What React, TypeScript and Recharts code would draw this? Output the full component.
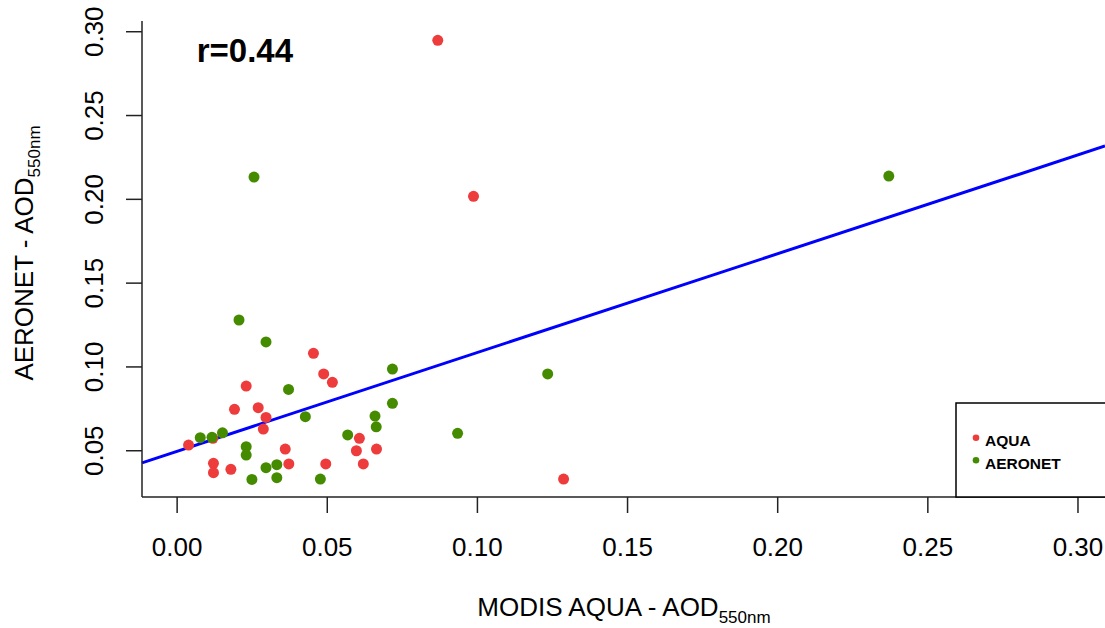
import { ScatterChart, Scatter, XAxis, YAxis, ReferenceLine } from 'recharts';

// MODIS AQUA points (red)
const aquaX = [0.0868, 0.0987, 0.1287, 0.0454, 0.0488, 0.0517, 0.023, 0.0191, 0.027, 0.0296, 0.0287, 0.0038,
  0.0119, 0.036, 0.0607, 0.0597, 0.0664, 0.0121, 0.0121, 0.0179, 0.0372, 0.0495, 0.062];
const aquaY = [0.2949, 0.2018, 0.0331, 0.1081, 0.0958, 0.0908, 0.0886, 0.0747, 0.0757, 0.0699, 0.0629, 0.0534,
  0.0574, 0.051, 0.0574, 0.05, 0.051, 0.0425, 0.0369, 0.0389, 0.0421, 0.0421, 0.0421];

// AERONET points (green)
const aeronetX = [0.0256, 0.237, 0.1234, 0.0206, 0.0296, 0.0371, 0.0717, 0.0717, 0.0427, 0.0659, 0.0663, 0.0568,
  0.0934, 0.0077, 0.0116, 0.0151, 0.023, 0.023, 0.0249, 0.0296, 0.0332, 0.0332, 0.0477];
const aeronetY = [0.2133, 0.2139, 0.0958, 0.128, 0.1149, 0.0866, 0.0987, 0.0783, 0.0703, 0.0707, 0.0643, 0.0594,
  0.0604, 0.0578, 0.058, 0.0607, 0.0524, 0.0474, 0.0329, 0.0399, 0.0417, 0.0339, 0.0331];

// regression line end points
const fitX = [-0.0117, 0.309];
const fitY = [0.0428, 0.2318];

const xTicks = [0, 0.05, 0.1, 0.15, 0.2, 0.25, 0.3];
const yTicks = [0.05, 0.1, 0.15, 0.2, 0.25, 0.3];

const series = [
  { name: 'AQUA', color: '#EE3B3B' },
  { name: 'AERONET', color: '#458B00' },
];

const aquaPts = aquaX.map((x, i) => ({ x, y: aquaY[i] }));
const aeronetPts = aeronetX.map((x, i) => ({ x, y: aeronetY[i] }));

const FONT = '"Liberation Sans", Arial, sans-serif';
const AXIS = '#222';

const dot = (color: string) => (props: any) => (
  <circle cx={props.cx} cy={props.cy} r={5.5} fill={color} />
);

const XTick = ({ x, y, payload }: any) => (
  <text x={x} y={y + 41} textAnchor="middle" fontSize={26} fontFamily={FONT} fill="#000">
    {payload.value.toFixed(2)}
  </text>
);

const YTick = ({ x, y, payload }: any) => (
  <text
    x={x - 21}
    y={y}
    transform={`rotate(-90, ${x - 21}, ${y})`}
    textAnchor="middle"
    fontSize={26}
    fontFamily={FONT}
    fill="#000"
  >
    {payload.value.toFixed(2)}
  </text>
);

export default function App() {
  return (
    <div style={{ position: 'fixed', left: 0, top: 0, width: 1105, height: 628, overflow: 'hidden', background: '#fff' }}>
      <ScatterChart width={1105} height={628} margin={{ top: 21, right: 0, bottom: 0, left: 0 }}>
        <XAxis
          dataKey="x"
          type="number"
          domain={[-0.0117, 0.309]}
          allowDataOverflow
          ticks={xTicks}
          tick={<XTick />}
          tickSize={16}
          height={131}
          stroke={AXIS}
          strokeWidth={1.5}
        />
        <XAxis
          xAxisId="top"
          orientation="top"
          type="number"
          domain={[-0.0117, 0.309]}
          height={0}
          tick={false}
          tickLine={false}
          stroke={AXIS}
          strokeWidth={1.5}
        />
        <YAxis
          dataKey="y"
          type="number"
          domain={[0.0224, 0.3064]}
          allowDataOverflow
          ticks={yTicks}
          tick={<YTick />}
          tickSize={16}
          width={142}
          stroke={AXIS}
          strokeWidth={1.5}
        />
        <Scatter data={aquaPts} fill={series[0].color} shape={dot(series[0].color)} isAnimationActive={false} />
        <Scatter data={aeronetPts} fill={series[1].color} shape={dot(series[1].color)} isAnimationActive={false} />
        <ReferenceLine
          segment={[{ x: fitX[0], y: fitY[0] }, { x: fitX[1], y: fitY[1] }]}
          stroke="#0000FF"
          strokeWidth={3}
          ifOverflow="visible"
        />
      </ScatterChart>

      <svg
        width={1105}
        height={628}
        style={{ position: 'absolute', left: 0, top: 0, pointerEvents: 'none' }}
        fontFamily={FONT}
      >
        <text x={196.7} y={61.7} fontSize={33} fontWeight="bold" fill="#000">r=0.44</text>

        <text x={624} y={616} textAnchor="middle" fontSize={26} fill="#000">
          MODIS AQUA - AOD<tspan fontSize={17} dy={7}>550nm</tspan>
        </text>
        <text x={33} y={253} transform="rotate(-90, 33, 253)" textAnchor="middle" fontSize={26} fill="#000">
          AERONET - AOD<tspan fontSize={17} dy={7}>550nm</tspan>
        </text>

        <rect x={956} y={403} width={170} height={94} fill="#fff" stroke="#000" strokeWidth={1.5} />
        {series.map((s, i) => (
          <g key={s.name}>
            <circle cx={976} cy={437.7 + i * 22.5} r={3.3} fill={s.color} />
            <text x={985} y={446 + i * 22.5} fontSize={15.5} fontWeight="bold" fill="#000">{s.name}</text>
          </g>
        ))}
      </svg>
    </div>
  );
}
